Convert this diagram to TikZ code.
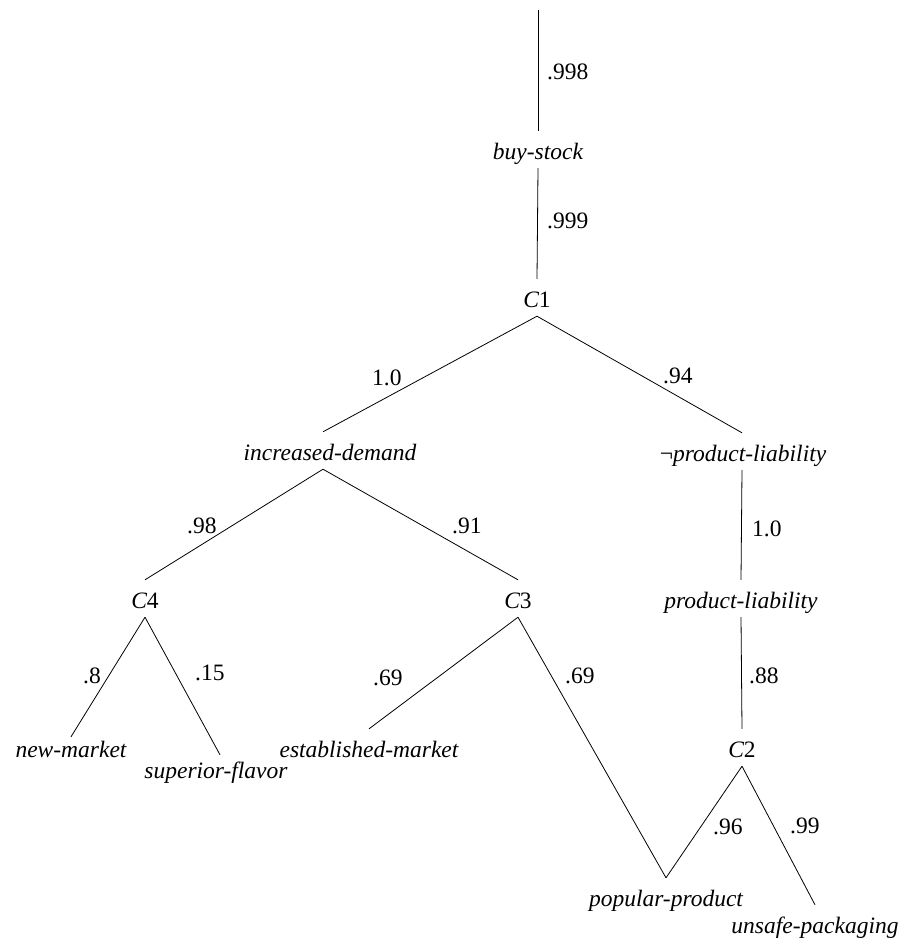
\documentclass[tikz,border=0pt]{standalone}
\usepackage{fontspec}
\setmainfont{Liberation Serif}
\begin{document}
\begin{tikzpicture}[x=1pt,y=-1pt,
  tn/.style={font=\fontsize{23.5}{28}\selectfont\itshape, anchor=base, inner xsep=0pt, inner ysep=4pt, text height=24pt, text depth=5pt},
  lb/.style={font=\fontsize{23.5}{28}\selectfont, anchor=base west, inner sep=0pt},
  edge/.style={line width=0.8pt}]
\useasboundingbox (0,0) rectangle (901,942);
% nodes
\coordinate (top) at (538,10);
\node[tn] (bs) at (538,159) {buy-stock};
\node[tn] (C1) at (537,307) {C\upshape 1};
\node[tn] (ID) at (330,460) {increased-demand};
\node[tn] (NPL) at (743,461) {{\upshape ¬}product-liability};
\node[tn] (PL) at (741,608) {product-liability};
\node[tn] (C4) at (145,608) {C\upshape 4};
\node[tn] (C3) at (518,608) {C\upshape 3};
\node[tn] (NM) at (71,757) {new-market};
\node[tn] (SF) at (216,778) {superior-flavor};
\node[tn] (EM) at (369,757) {established-market};
\node[tn] (C2) at (742,757) {C\upshape 2};
\node[tn] (PP) at (666,906) {popular-product};
\node[tn] (UP) at (815,933) {unsafe-packaging};
% connectors
\draw[edge] (top) -- (bs.north);
\draw[edge] (bs.south) -- (C1.north);
\draw[edge] (C1.south) -- ([xshift=-7pt]ID.north);
\draw[edge] (C1.south) -- ([xshift=-1pt]NPL.north);
\draw[edge] ([xshift=-1pt]NPL.south) -- (PL.north);
\draw[edge] ([xshift=-7pt]ID.south) -- (C4.north);
\draw[edge] ([xshift=-7pt]ID.south) -- (C3.north);
\draw[edge] (C4.south) -- ([yshift=-8pt]NM.north);
\draw[edge] (C4.south) -- ([xshift=4pt,yshift=-5pt]SF.north);
\draw[edge] (C3.south) -- (EM.north);
\draw[edge] (C3.south) -- (PP.north);
\draw[edge] (PL.south) -- (C2.north);
\draw[edge] (C2.south) -- (PP.north);
\draw[edge] (C2.south) -- (UP.north);
% labels
\node[lb] (l1) at (547,80) {.998};
\node[lb] (l2) at (547,228) {.999};
\node[lb] (l3) at (372,385) {1.0};
\node[lb] (l4) at (663,383) {.94};
\node[lb] (l5) at (752,536) {1.0};
\node[lb] (l6) at (187,533) {.98};
\node[lb] (l7) at (452,533) {.91};
\node[lb] (l8) at (83,683) {.8};
\node[lb] (l9) at (195,680) {.15};
\node[lb] (l10) at (373,685) {.69};
\node[lb] (l11) at (565,683) {.69};
\node[lb] (l12) at (749,683) {.88};
\node[lb] (l13) at (713,834) {.96};
\node[lb] (l14) at (790,833) {.99};
\end{tikzpicture}
\end{document}
